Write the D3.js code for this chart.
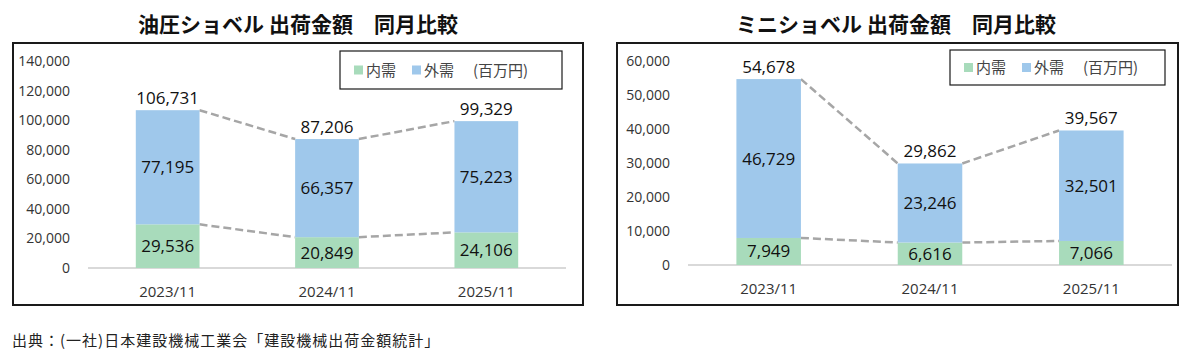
<!DOCTYPE html>
<html><head><meta charset="utf-8">
<script src="https://cdn.jsdelivr.net/npm/d3@7"></script>
<style>body{margin:0;background:#fff}svg{display:block}</style>
</head><body>
<svg id="c" width="1191" height="357"></svg>
<script>
const categories = ["2023/11", "2024/11", "2025/11"];
const hydDomestic = [29536, 20849, 24106];
const hydExport = [77195, 66357, 75223];
const hydTotal = [106731, 87206, 99329];
const hydTicks = [0, 20000, 40000, 60000, 80000, 100000, 120000, 140000];
const miniDomestic = [7949, 6616, 7066];
const miniExport = [46729, 23246, 32501];
const miniTotal = [54678, 29862, 39567];
const miniTicks = [0, 10000, 20000, 30000, 40000, 50000, 60000];
const legendLabels = ["内需", "外需"];
const unitLabel = "(百万円)";
const titles = ["油圧ショベル 出荷金額\u3000同月比較", "ミニショベル 出荷金額\u3000同月比較"];
const source = "出典：(一社)日本建設機械工業会「建設機械出荷金額統計」";

const colors = {dom: "#a8dbbb", exp: "#9fc8eb"};
const NUM_FONT = "'Open Sans', 'Noto Sans', sans-serif";
const JP_FONT = "'Noto Sans CJK JP', sans-serif";
const svg = d3.select("#c");
const fmt = d3.format(",");

function drawChart(cfg) {
  const g = svg.append("g");
  g.append("rect").attr("x", cfg.frame[0]).attr("y", cfg.frame[1])
    .attr("width", cfg.frame[2]).attr("height", cfg.frame[3])
    .attr("fill", "none").attr("stroke", "#1a1a1a").attr("stroke-width", 2);
  g.append("text").attr("x", cfg.titleX).attr("y", 32).attr("text-anchor", "middle")
    .attr("font-family", JP_FONT).attr("font-weight", "bold").attr("font-size", 21)
    .attr("fill", "#111").text(cfg.title);

  const x = d3.scaleBand().domain(categories).range([cfg.x0, cfg.x1]).paddingInner(0.6).paddingOuter(0.3);
  const y = d3.scaleLinear().domain([0, cfg.max]).range([cfg.y0, cfg.y1]);

  const ya = d3.axisLeft(y).tickValues(cfg.ticks).tickFormat(fmt).tickSize(0).tickPadding(0);
  const yg = g.append("g").attr("transform", `translate(${cfg.labelX},0)`).call(ya);
  yg.select(".domain").remove();
  yg.selectAll("text").attr("font-family", NUM_FONT).attr("font-size", 14).attr("fill", "#333");

  g.append("line").attr("x1", cfg.x0).attr("x2", cfg.x1).attr("y1", y(0)).attr("y2", y(0))
    .attr("stroke", "#d9d9d9").attr("stroke-width", 2);

  const xa = d3.axisBottom(x).tickSize(0).tickPadding(0);
  const xg = g.append("g").attr("transform", `translate(0,${y(0) + 18})`).call(xa);
  xg.select(".domain").remove();
  xg.selectAll("text").attr("font-family", NUM_FONT).attr("font-size", 15).attr("fill", "#333");

  const data = categories.map((c, i) => ({c, d: cfg.dom[i], e: cfg.exp[i], t: cfg.tot[i]}));

  const dash = g.append("g").attr("stroke", "#a6a6a6").attr("stroke-width", 2.5)
    .attr("stroke-dasharray", "8,4").attr("fill", "none");
  for (let i = 0; i < data.length - 1; i++) {
    const xa1 = x(data[i].c) + x.bandwidth(), xb = x(data[i + 1].c);
    dash.append("line").attr("x1", xa1).attr("x2", xb)
      .attr("y1", y(data[i].t)).attr("y2", y(data[i + 1].t));
    dash.append("line").attr("x1", xa1).attr("x2", xb)
      .attr("y1", y(data[i].d)).attr("y2", y(data[i + 1].d));
  }

  g.selectAll(".dom").data(data).join("rect")
    .attr("x", d => x(d.c)).attr("width", x.bandwidth())
    .attr("y", d => y(d.d)).attr("height", d => y(0) - y(d.d)).attr("fill", colors.dom);
  g.selectAll(".exp").data(data).join("rect")
    .attr("x", d => x(d.c)).attr("width", x.bandwidth())
    .attr("y", d => y(d.d + d.e)).attr("height", d => y(d.d) - y(d.d + d.e)).attr("fill", colors.exp);

  const lbl = (sel) => sel.attr("text-anchor", "middle").attr("font-family", NUM_FONT)
    .attr("font-size", 17).attr("fill", "#111");
  g.selectAll(".ld").data(data).join("text").call(lbl)
    .attr("x", d => x(d.c) + x.bandwidth() / 2).attr("y", d => (y(0) + y(d.d)) / 2 + 6).text(d => fmt(d.d));
  g.selectAll(".le").data(data).join("text").call(lbl)
    .attr("x", d => x(d.c) + x.bandwidth() / 2).attr("y", d => (y(d.d) + y(d.d + d.e)) / 2 + 6).text(d => fmt(d.e));
  g.selectAll(".lt").data(data).join("text").call(lbl)
    .attr("x", d => x(d.c) + x.bandwidth() / 2).attr("y", d => y(d.t) - 6).text(d => fmt(d.t));

  const L = cfg.legend;
  g.append("rect").attr("x", L[0]).attr("y", L[1]).attr("width", L[2]).attr("height", L[3])
    .attr("fill", "#fff").attr("stroke", "#1a1a1a").attr("stroke-width", 1.2);
  const ly = L[1] + L[3] / 2;
  const items = [[legendLabels[0], colors.dom, 14], [legendLabels[1], colors.exp, 72]];
  items.forEach(([t, col, dx]) => {
    g.append("rect").attr("x", L[0] + dx).attr("y", ly - 4.5).attr("width", 9).attr("height", 9).attr("fill", col);
    g.append("text").attr("x", L[0] + dx + 12).attr("y", ly + 5.5).attr("font-family", JP_FONT)
      .attr("font-size", 15).attr("fill", "#444").text(t);
  });
  g.append("text").attr("x", L[0] + 133).attr("y", ly + 5.5).attr("font-family", JP_FONT)
    .attr("font-size", 15).attr("fill", "#444").text(unitLabel);
}

drawChart({frame: [13, 43, 570, 262], title: titles[0], titleX: 298,
  x0: 88, x1: 566, y0: 268, y1: 61, max: 140000, ticks: hydTicks, labelX: 70,
  dom: hydDomestic, exp: hydExport, tot: hydTotal, legend: [340, 51, 222, 38]});
drawChart({frame: [617, 43, 561, 262], title: titles[1], titleX: 896,
  x0: 688, x1: 1172, y0: 265, y1: 61, max: 60000, ticks: miniTicks, labelX: 670,
  dom: miniDomestic, exp: miniExport, tot: miniTotal, legend: [950, 50, 215, 35]});

svg.append("text").attr("x", 12).attr("y", 346).attr("font-family", JP_FONT)
  .attr("font-size", 15).attr("letter-spacing", 1).attr("fill", "#222").text(source);
</script>
</body></html>
